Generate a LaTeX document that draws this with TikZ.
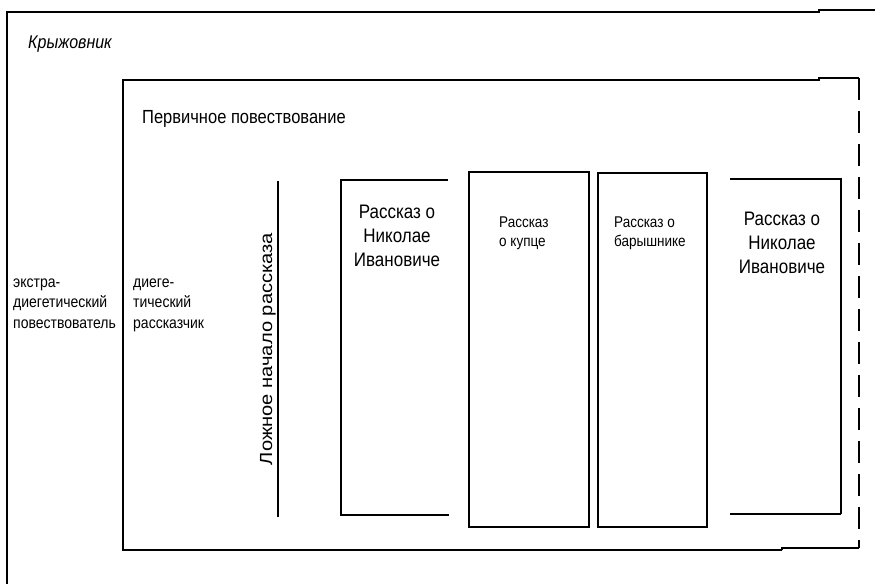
\documentclass[tikz,border=0pt]{standalone}
\usepackage{fontspec}
\setmainfont{Liberation Sans}
\begin{document}
\begin{tikzpicture}[x=1pt,y=-1pt,
  frameline/.style={line width=1.7pt, line join=miter},
  dashline/.style={line width=1.7pt, dash pattern=on 22pt off 11pt},
  lbl/.style={inner sep=0pt, yscale=1.15},
  bigtxt/.style={lbl, font=\fontsize{17}{20.8}\selectfont, align=center},
  midtxt/.style={lbl, font=\fontsize{16.5}{19}\selectfont, align=left},
  sidetxt/.style={lbl, font=\fontsize{14}{17.8}\selectfont, align=left},
  boxtxt/.style={lbl, font=\fontsize{13.5}{15.7}\selectfont, align=left}]
\useasboundingbox (0,0) rectangle (875,584);

% outer frame
\draw[frameline] (7,584) -- (7,12) -- (819,12) -- (819,10) -- (875,10);

% inner frame, open on the right
\draw[frameline] (782,550) -- (123,550) -- (123,80) -- (819,80) -- (819,78) -- (859,78);
\draw[frameline] (782,550) -- (782,548) -- (859,548);
\draw[dashline] (859,78) -- (859,548);

% false start line
\draw[frameline] (278,181) -- (278,517);

% story boxes
\draw[frameline] (448,180) -- (341,180) -- (341,515) -- (449,515);
\draw[frameline] (469,172) rectangle (589,527);
\draw[frameline] (598,173) rectangle (707,527);
\draw[frameline] (730,179) -- (841,179) -- (841,514);
\draw[line width=2.6pt] (841,514) -- (730,514);

% labels (base anchor = baseline of the last line)
\node[midtxt, anchor=base west, font=\fontsize{16}{19}\selectfont\itshape] (title) at (28,48) {Крыжовник};
\node[midtxt, anchor=base west] (primary) at (142,123) {Первичное повествование};
\node[sidetxt, anchor=base west] (extra) at (13,328) {экстра-\\диегетический\\повествователь};
\node[sidetxt, anchor=base west] (dieg) at (133,328) {диеге-\\тический\\рассказчик};
\node[lbl, font=\fontsize{17.5}{19}\selectfont, rotate=90, anchor=base] (false) at (272,349) {Ложное начало рассказа};
\node[bigtxt, anchor=base] (nik1) at (397,266) {Рассказ о\\Николае\\Ивановиче};
\node[boxtxt, anchor=base west] (kupets) at (499,246) {Рассказ\\о купце};
\node[boxtxt, anchor=base west] (baryshn) at (614,246) {Рассказ о\\барышнике};
\node[bigtxt, anchor=base] (nik2) at (782,273) {Рассказ о\\Николае\\Ивановиче};
\end{tikzpicture}
\end{document}
